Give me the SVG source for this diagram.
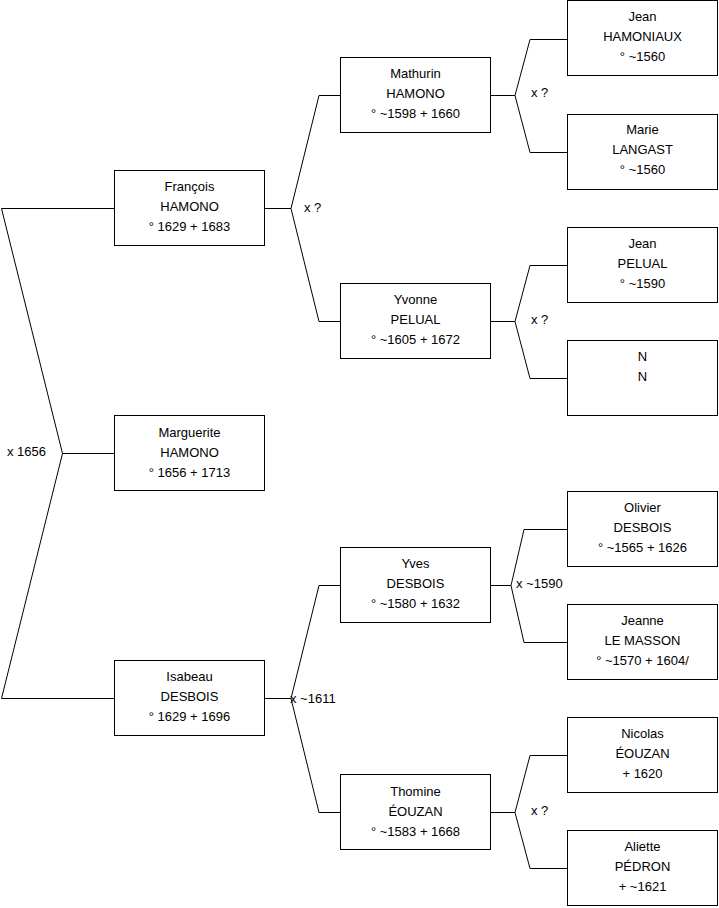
<svg xmlns="http://www.w3.org/2000/svg" width="719" height="908" viewBox="0 0 719 908">
<style>
.box rect{fill:#fff;stroke:#000;stroke-width:1}
text{font-family:"Liberation Sans",Arial,sans-serif;font-size:13px;fill:#000}
.box text{text-anchor:middle}
.c{fill:none;stroke:#000;stroke-width:1}
</style>
<rect width="719" height="908" fill="#fff"/>
<g id="connectors" class="c">
<polyline points="114.5,208.5 1.5,208.5 62.5,453.5 1.5,698.5 114.5,698.5"/>
<line x1="62.5" y1="453.5" x2="114.5" y2="453.5"/>
<line x1="264.5" y1="208.5" x2="291" y2="208.5"/>
<polyline points="340.5,95.5 319,95.5 291,208.5 319,321.5 340.5,321.5"/>
<line x1="264.5" y1="698.5" x2="291" y2="698.5"/>
<polyline points="340.5,585.5 319,585.5 291,698.5 319,812.5 340.5,812.5"/>
<line x1="490.5" y1="95.5" x2="515" y2="95.5"/>
<polyline points="567.5,39.5 530,39.5 515,95.5 530,152.5 567.5,152.5"/>
<line x1="490.5" y1="321.5" x2="515" y2="321.5"/>
<polyline points="567.5,265.5 530,265.5 515,321.5 530,378.5 567.5,378.5"/>
<line x1="490.5" y1="585.5" x2="511" y2="585.5"/>
<polyline points="567.5,529.5 524,529.5 511,585.5 524,642.5 567.5,642.5"/>
<line x1="490.5" y1="812.5" x2="515" y2="812.5"/>
<polyline points="567.5,755.5 530,755.5 515,812.5 530,868.5 567.5,868.5"/>
</g>
<g id="labels">
<text x="7" y="456">x 1656</text>
<text x="304" y="212">x ?</text>
<text x="290" y="703">x ~1611</text>
<text x="531" y="97">x ?</text>
<text x="531" y="324">x ?</text>
<text x="516" y="588">x ~1590</text>
<text x="531" y="815">x ?</text>
</g>
<g id="francois" class="box"><rect x="114.5" y="170.5" width="150" height="75"/><text x="189.5" y="191">François</text><text x="189.5" y="211">HAMONO</text><text x="189.5" y="231">° 1629 + 1683</text></g>
<g id="marguerite" class="box"><rect x="114.5" y="415.5" width="150" height="75"/><text x="189.5" y="437">Marguerite</text><text x="189.5" y="457">HAMONO</text><text x="189.5" y="477">° 1656 + 1713</text></g>
<g id="isabeau" class="box"><rect x="114.5" y="660.5" width="150" height="75"/><text x="189.5" y="681">Isabeau</text><text x="189.5" y="701">DESBOIS</text><text x="189.5" y="721">° 1629 + 1696</text></g>
<g id="mathurin" class="box"><rect x="340.5" y="57.5" width="150" height="75"/><text x="415.5" y="78">Mathurin</text><text x="415.5" y="98">HAMONO</text><text x="415.5" y="118">° ~1598 + 1660</text></g>
<g id="yvonne" class="box"><rect x="340.5" y="283.5" width="150" height="75"/><text x="415.5" y="304">Yvonne</text><text x="415.5" y="324">PELUAL</text><text x="415.5" y="344">° ~1605 + 1672</text></g>
<g id="yves" class="box"><rect x="340.5" y="547.5" width="150" height="75"/><text x="415.5" y="568">Yves</text><text x="415.5" y="588">DESBOIS</text><text x="415.5" y="608">° ~1580 + 1632</text></g>
<g id="thomine" class="box"><rect x="340.5" y="774.5" width="150" height="75"/><text x="415.5" y="796">Thomine</text><text x="415.5" y="816">ÉOUZAN</text><text x="415.5" y="836">° ~1583 + 1668</text></g>
<g id="jean-hamoniaux" class="box"><rect x="567.5" y="0.5" width="150" height="75"/><text x="642.5" y="20.5">Jean</text><text x="642.5" y="40.5">HAMONIAUX</text><text x="642.5" y="60.5">° ~1560</text></g>
<g id="marie" class="box"><rect x="567.5" y="114.5" width="150" height="75"/><text x="642.5" y="134">Marie</text><text x="642.5" y="154">LANGAST</text><text x="642.5" y="174">° ~1560</text></g>
<g id="jean-pelual" class="box"><rect x="567.5" y="227.5" width="150" height="75"/><text x="642.5" y="248">Jean</text><text x="642.5" y="268">PELUAL</text><text x="642.5" y="288">° ~1590</text></g>
<g id="nn" class="box"><rect x="567.5" y="340.5" width="150" height="75"/><text x="642.5" y="361">N</text><text x="642.5" y="381">N</text></g>
<g id="olivier" class="box"><rect x="567.5" y="491.5" width="150" height="75"/><text x="642.5" y="512">Olivier</text><text x="642.5" y="532">DESBOIS</text><text x="642.5" y="552">° ~1565 + 1626</text></g>
<g id="jeanne" class="box"><rect x="567.5" y="604.5" width="150" height="75"/><text x="642.5" y="625">Jeanne</text><text x="642.5" y="645">LE MASSON</text><text x="642.5" y="665">° ~1570 + 1604/</text></g>
<g id="nicolas" class="box"><rect x="567.5" y="717.5" width="150" height="75"/><text x="642.5" y="738">Nicolas</text><text x="642.5" y="758">ÉOUZAN</text><text x="642.5" y="778">+ 1620</text></g>
<g id="aliette" class="box"><rect x="567.5" y="830.5" width="150" height="75"/><text x="642.5" y="851">Aliette</text><text x="642.5" y="871">PÉDRON</text><text x="642.5" y="891">+ ~1621</text></g>
</svg>
